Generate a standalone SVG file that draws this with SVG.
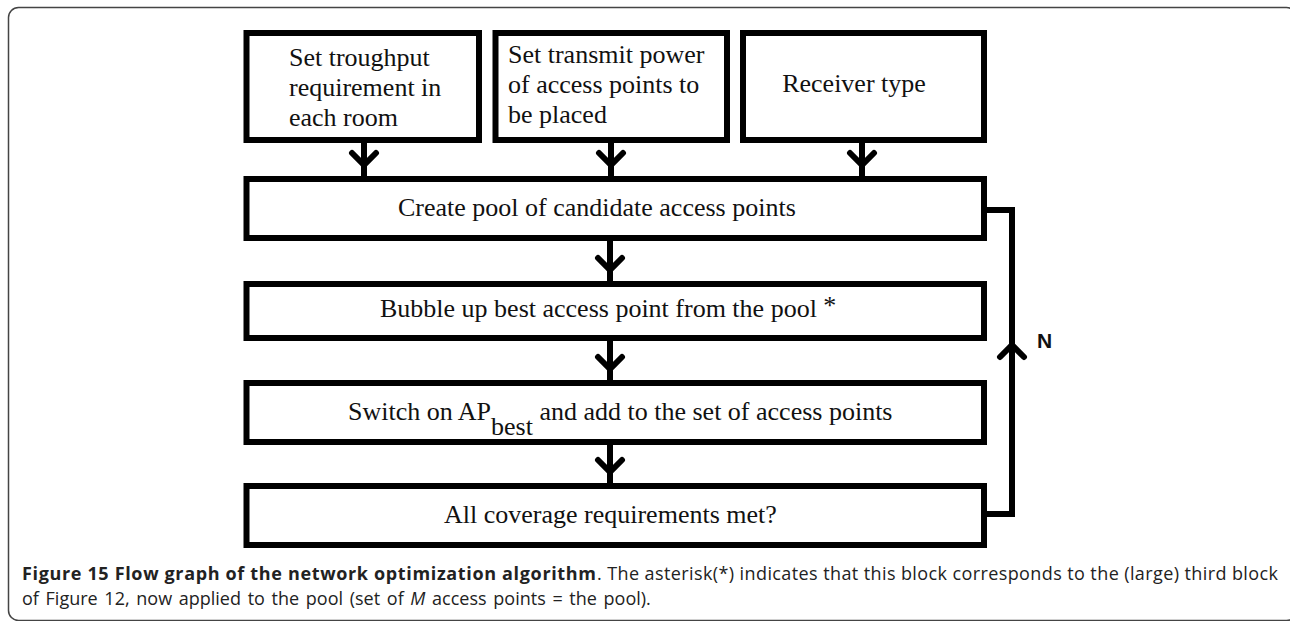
<svg xmlns="http://www.w3.org/2000/svg" width="1290" height="621" viewBox="0 0 1290 621">
<style>
.box{fill:#fff;stroke:#000;stroke-width:6}
.t{font-family:"Liberation Serif","Times New Roman",serif;font-size:26px;fill:#111}
.ln{fill:none;stroke:#000;stroke-width:6}
.chev{fill:none;stroke:#000;stroke-width:6;stroke-linecap:round;stroke-linejoin:miter}
.cap{font-family:"Open Sans","Noto Sans",sans-serif;font-size:18px;fill:#222}
</style>
<rect x="8.5" y="7.5" width="1288" height="613" rx="10" fill="none" stroke="#444" stroke-width="1.5"/>
<g id="connectors">
<path class="ln" d="M364,140 V179 M611,140 V179 M862,140 V179 M610,238 V284 M610,338 V383 M610,442 V486"/>
<path class="chev" d="M352,153 L364,165 L376,153 M599,153 L611,165 L623,153 M850,153 L862,165 L874,153"/>
<path class="chev" d="M598,258 L610,270 L622,258 M598,357 L610,369 L622,357 M598,460 L610,472 L622,460"/>
<path class="ln" d="M984,514 H1012 V210 H984"/>
<path class="chev" d="M1000,357 L1012,345 L1024,357"/>
<text x="1037" y="348" font-family="Liberation Sans,Arial,sans-serif" font-weight="bold" font-size="21" fill="#111">N</text>
</g>
<g id="n1">
<rect class="box" x="246.5" y="33" width="232.5" height="107"/>
<text class="t" x="289" y="66">Set troughput</text>
<text class="t" x="289" y="96">requirement in</text>
<text class="t" x="289" y="126">each room</text>
</g>
<g id="n2">
<rect class="box" x="495.5" y="33" width="231.5" height="107"/>
<text class="t" x="508" y="63">Set transmit power</text>
<text class="t" x="508" y="93">of access points to</text>
<text class="t" x="508" y="123">be placed</text>
</g>
<g id="n3">
<rect class="box" x="743" y="33" width="241" height="107"/>
<text class="t" x="854" y="92" text-anchor="middle">Receiver type</text>
</g>
<g id="n4">
<rect class="box" x="246.5" y="179" width="737.5" height="59"/>
<text class="t" x="398" y="216">Create pool of candidate access points</text>
</g>
<g id="n5">
<rect class="box" x="246.5" y="284" width="737.5" height="54"/>
<text class="t" x="380" y="317">Bubble up best access point from the pool <tspan dy="-3">*</tspan></text>
</g>
<g id="n6">
<rect class="box" x="246.5" y="383" width="737.5" height="59"/>
<text class="t" x="348" y="420">Switch on AP<tspan dy="15">best</tspan><tspan dy="-15"> and add to the set of access points</tspan></text>
</g>
<g id="n7">
<rect class="box" x="246.5" y="486" width="737.5" height="59"/>
<text class="t" x="444" y="523">All coverage requirements met?</text>
</g>
<g id="caption">
<text class="cap" x="22" y="580" font-weight="bold" textLength="574" lengthAdjust="spacing">Figure 15 Flow graph of the network optimization algorithm</text>
<text class="cap" x="597" y="580" textLength="681" lengthAdjust="spacing">. The asterisk(*) indicates that this block corresponds to the (large) third block</text>
<text class="cap" x="22" y="605" word-spacing="2">of Figure 12, now applied to the pool (set of <tspan font-style="italic">M</tspan> access points = the pool).</text>
</g>
</svg>
